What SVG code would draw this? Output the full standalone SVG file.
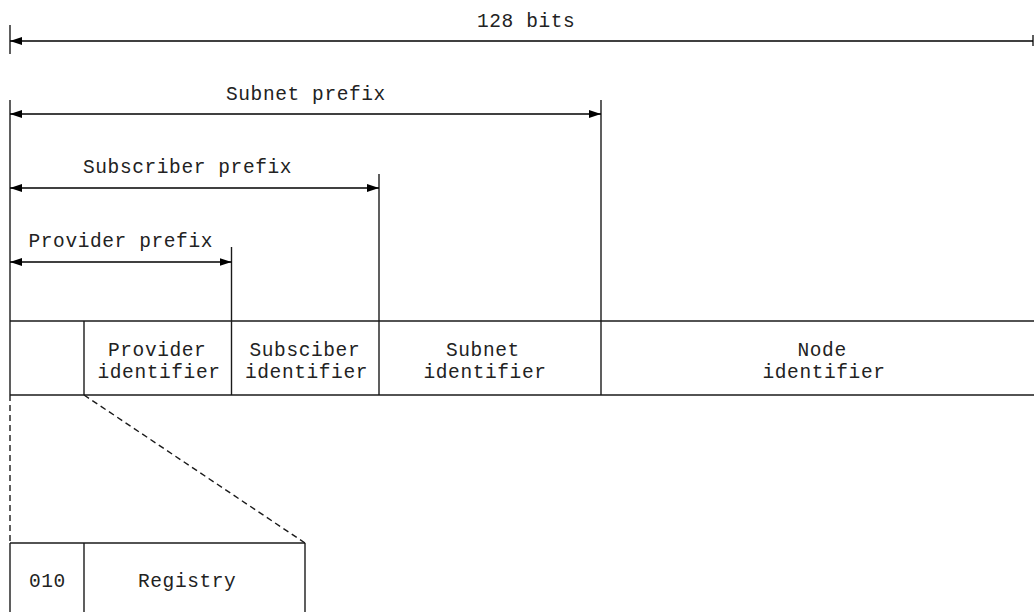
<svg xmlns="http://www.w3.org/2000/svg" width="1034" height="612" viewBox="0 0 1034 612">
  <defs>
    <marker id="arrow" viewBox="0 0 12 8" refX="12" refY="4" markerWidth="12" markerHeight="8" markerUnits="userSpaceOnUse" orient="auto-start-reverse">
      <path d="M0,0 L12,4 L0,8 Z" fill="#000"/>
    </marker>
    <style>
      .ln { stroke: #1a1a1a; stroke-width: 1.4; fill: none; }
      .dim { stroke: #000; stroke-width: 1.4; fill: none; }
      .dash { stroke: #1a1a1a; stroke-width: 1.4; fill: none; stroke-dasharray: 6 4; }
      .lbl { font-family: "Liberation Mono", "Courier New", monospace; font-size: 19.5px; letter-spacing: 0.6px; fill: #222; }
    </style>
  </defs>
  <rect width="1034" height="612" fill="#fff"/>

  <!-- extent markers and dimension arrows -->
  <g id="connectors">
    <!-- 128 bits -->
    <line class="ln" x1="10" y1="25" x2="10" y2="54"/>
    <line class="ln" x1="1033" y1="35" x2="1033" y2="46"/>
    <line class="dim" x1="1033" y1="41" x2="10" y2="41" marker-end="url(#arrow)"/>
    <!-- left boundary -->
    <line class="ln" x1="10" y1="100" x2="10" y2="321"/>
    <!-- subnet prefix -->
    <line class="ln" x1="601" y1="100" x2="601" y2="321"/>
    <line class="dim" x1="10" y1="114" x2="601" y2="114" marker-start="url(#arrow)" marker-end="url(#arrow)"/>
    <!-- subscriber prefix -->
    <line class="ln" x1="379" y1="174" x2="379" y2="321"/>
    <line class="dim" x1="10" y1="188" x2="379" y2="188" marker-start="url(#arrow)" marker-end="url(#arrow)"/>
    <!-- provider prefix -->
    <line class="ln" x1="231.5" y1="247" x2="231.5" y2="321"/>
    <line class="dim" x1="10" y1="262" x2="231.5" y2="262" marker-start="url(#arrow)" marker-end="url(#arrow)"/>
    <!-- zoom-out guides -->
    <line class="dash" x1="10" y1="395" x2="10" y2="543"/>
    <line class="dash" x1="84" y1="395" x2="305" y2="543"/>
  </g>

  <g id="labels">
    <text class="lbl" x="477" y="27">128 bits</text>
    <text class="lbl" x="226" y="100">Subnet prefix</text>
    <text class="lbl" x="83" y="173">Subscriber prefix</text>
    <text class="lbl" x="28.5" y="246.5">Provider prefix</text>
  </g>

  <!-- address layout row -->
  <g id="address-row">
    <line class="ln" x1="10" y1="321" x2="1034" y2="321"/>
    <line class="ln" x1="10" y1="395" x2="1034" y2="395"/>
    <line class="ln" x1="10" y1="321" x2="10" y2="395"/>
  </g>
  <g id="format-prefix">
    <line class="ln" x1="84" y1="321" x2="84" y2="395"/>
  </g>
  <g id="provider-identifier">
    <line class="ln" x1="231.5" y1="321" x2="231.5" y2="395"/>
    <text class="lbl" x="108" y="356">Provider</text>
    <text class="lbl" x="97.5" y="378">identifier</text>
  </g>
  <g id="subscriber-identifier">
    <line class="ln" x1="379" y1="321" x2="379" y2="395"/>
    <text class="lbl" x="249.5" y="356">Subsciber</text>
    <text class="lbl" x="245" y="378">identifier</text>
  </g>
  <g id="subnet-identifier">
    <line class="ln" x1="601" y1="321" x2="601" y2="395"/>
    <text class="lbl" x="446" y="356">Subnet</text>
    <text class="lbl" x="423.5" y="378">identifier</text>
  </g>
  <g id="node-identifier">
    <text class="lbl" x="797.5" y="356">Node</text>
    <text class="lbl" x="762.5" y="378">identifier</text>
  </g>

  <!-- expanded provider identifier -->
  <g id="registry-row">
    <line class="ln" x1="10" y1="543" x2="305" y2="543"/>
    <line class="ln" x1="10" y1="543" x2="10" y2="612"/>
    <line class="ln" x1="305" y1="543" x2="305" y2="612"/>
  </g>
  <g id="prefix-010">
    <line class="ln" x1="84" y1="543" x2="84" y2="612"/>
    <text class="lbl" x="29" y="587">010</text>
  </g>
  <g id="registry">
    <text class="lbl" x="138" y="587">Registry</text>
  </g>
</svg>
